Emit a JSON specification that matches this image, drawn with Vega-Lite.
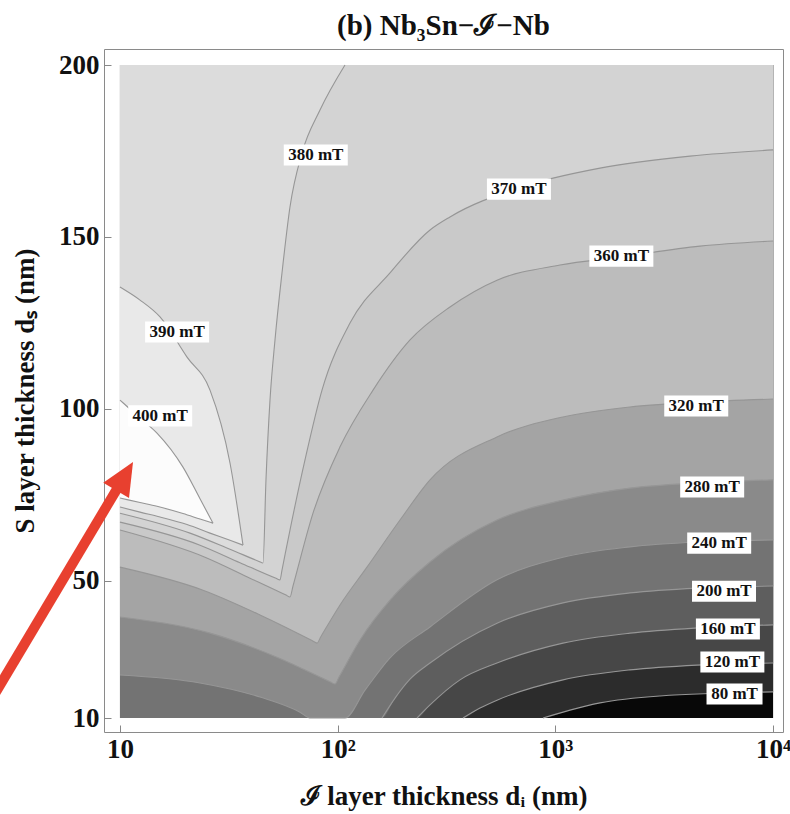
{
 "$schema": "https://vega.github.io/schema/vega-lite/v6.json",
 "width": 679, "height": 683,
 "autosize": {"type": "none"},
 "padding": {"left": 104, "top": 49, "right": 7, "bottom": 82},
 "background": "white",
 "config": {"view": {"stroke": "#8a8a8a", "strokeWidth": 1}, "font": "Liberation Serif"},
 "title": {"text": "(b) Nb₃Sn−ℐ−Nb", "font": "Liberation Serif", "fontSize": 29, "fontWeight": "bold", "anchor": "middle", "offset": 8, "color": "#111111"},
 "datasets": {
  "fills": [
   {"lev":0,"x":10,"lo":10,"hi":200},{"lev":0,"x":10000,"lo":10,"hi":200},
   {"lev":80,"x":10,"lo":10,"hi":200},{"lev":80,"x":877,"lo":10,"hi":200},{"lev":80,"x":1167,"lo":12.3,"hi":200},{"lev":80,"x":1603,"lo":14.4,"hi":200},{"lev":80,"x":3023,"lo":16.4,"hi":200},{"lev":80,"x":10000,"lo":17.6,"hi":200},
   {"lev":120,"x":10,"lo":10,"hi":200},{"lev":120,"x":376.3,"lo":10,"hi":200},{"lev":120,"x":450.6,"lo":12.9,"hi":200},{"lev":120,"x":539.3,"lo":15.2,"hi":200},{"lev":120,"x":1083.6,"lo":21.1,"hi":200},{"lev":120,"x":2201.6,"lo":24.0,"hi":200},{"lev":120,"x":4471,"lo":25.4,"hi":200},{"lev":120,"x":10000,"lo":26.0,"hi":200},
   {"lev":160,"x":10,"lo":10,"hi":200},{"lev":160,"x":231.4,"lo":10,"hi":200},{"lev":160,"x":265.5,"lo":13.8,"hi":200},{"lev":160,"x":364.6,"lo":21.1,"hi":200},{"lev":160,"x":539.3,"lo":26.0,"hi":200},{"lev":160,"x":1083.6,"lo":31.8,"hi":200},{"lev":160,"x":2201.6,"lo":34.7,"hi":200},{"lev":160,"x":4471,"lo":36.2,"hi":200},{"lev":160,"x":10000,"lo":37.1,"hi":200},
   {"lev":200,"x":10,"lo":10,"hi":200},{"lev":200,"x":159.8,"lo":10,"hi":200},{"lev":200,"x":183.4,"lo":15.8,"hi":200},{"lev":200,"x":214.9,"lo":21.3,"hi":200},{"lev":200,"x":265.5,"lo":26.0,"hi":200},{"lev":200,"x":539.3,"lo":37.6,"hi":200},{"lev":200,"x":1083.6,"lo":43.5,"hi":200},{"lev":200,"x":2201.6,"lo":46.4,"hi":200},{"lev":200,"x":4471,"lo":47.8,"hi":200},{"lev":200,"x":10000,"lo":48.4,"hi":200},
   {"lev":240,"x":10,"lo":22.5,"hi":200},{"lev":240,"x":23.31,"lo":20.2,"hi":200},{"lev":240,"x":43.97,"lo":16.1,"hi":200},{"lev":240,"x":67.12,"lo":11.7,"hi":200},{"lev":240,"x":74.61,"lo":10,"hi":200},{"lev":240,"x":108,"lo":10,"hi":200},{"lev":240,"x":133.5,"lo":18.1,"hi":200},{"lev":240,"x":173.9,"lo":27.5,"hi":200},{"lev":240,"x":265.5,"lo":36.5,"hi":200},{"lev":240,"x":539.3,"lo":50.2,"hi":200},{"lev":240,"x":1083.6,"lo":56.8,"hi":200},{"lev":240,"x":2201.6,"lo":59.8,"hi":200},{"lev":240,"x":4471,"lo":61.2,"hi":200},{"lev":240,"x":10000,"lo":61.8,"hi":200},
   {"lev":280,"x":10,"lo":39.4,"hi":200},{"lev":280,"x":25.91,"lo":34.7,"hi":200},{"lev":280,"x":52.62,"lo":27.7,"hi":200},{"lev":280,"x":92.2,"lo":20.56,"hi":200},{"lev":280,"x":97.19,"lo":19.9,"hi":200},{"lev":280,"x":101.4,"lo":21.93,"hi":200},{"lev":280,"x":126.6,"lo":32.7,"hi":200},{"lev":280,"x":173.9,"lo":44.3,"hi":200},{"lev":280,"x":265.5,"lo":55.4,"hi":200},{"lev":280,"x":539.3,"lo":67.6,"hi":200},{"lev":280,"x":1083.6,"lo":73.4,"hi":200},{"lev":280,"x":2201.6,"lo":76.9,"hi":200},{"lev":280,"x":4471,"lo":78.4,"hi":200},{"lev":280,"x":10000,"lo":79.3,"hi":200},
   {"lev":320,"x":10,"lo":53.9,"hi":200},{"lev":320,"x":24.06,"lo":47.2,"hi":200},{"lev":320,"x":43.97,"lo":40.0,"hi":200},{"lev":320,"x":76.2,"lo":32.55,"hi":200},{"lev":320,"x":80.35,"lo":31.8,"hi":200},{"lev":320,"x":83.8,"lo":33.74,"hi":200},{"lev":320,"x":102.5,"lo":42.9,"hi":200},{"lev":320,"x":136.3,"lo":53.9,"hi":200},{"lev":320,"x":193.3,"lo":67.6,"hi":200},{"lev":320,"x":265.5,"lo":79.3,"hi":200},{"lev":320,"x":539.3,"lo":91.8,"hi":200},{"lev":320,"x":1083.6,"lo":97.6,"hi":200},{"lev":320,"x":2201.6,"lo":100.5,"hi":200},{"lev":320,"x":4471,"lo":101.9,"hi":200},{"lev":320,"x":10000,"lo":102.8,"hi":200},
   {"lev":360,"x":10,"lo":64.7,"hi":200},{"lev":360,"x":24.57,"lo":56.8,"hi":200},{"lev":360,"x":39.55,"lo":50.7,"hi":200},{"lev":360,"x":57.88,"lo":45.76,"hi":200},{"lev":360,"x":60.37,"lo":45.2,"hi":200},{"lev":360,"x":62.34,"lo":48.41,"hi":200},{"lev":360,"x":77.02,"lo":69.6,"hi":200},{"lev":360,"x":102.5,"lo":88.9,"hi":200},{"lev":360,"x":145.3,"lo":105.4,"hi":200},{"lev":360,"x":214.9,"lo":120.0,"hi":200},{"lev":360,"x":328,"lo":129.6,"hi":200},{"lev":360,"x":539.3,"lo":137.4,"hi":200},{"lev":360,"x":1049.8,"lo":141.8,"hi":200},{"lev":360,"x":1980.7,"lo":144.1,"hi":200},{"lev":360,"x":4615,"lo":147.3,"hi":200},{"lev":360,"x":10000,"lo":148.8,"hi":200},
   {"lev":370,"x":10,"lo":67.0,"hi":200},{"lev":370,"x":23.31,"lo":60.3,"hi":200},{"lev":370,"x":35.58,"lo":55.2,"hi":200},{"lev":370,"x":52.07,"lo":50.66,"hi":200},{"lev":370,"x":54.33,"lo":50.2,"hi":200},{"lev":370,"x":55.48,"lo":53.06,"hi":200},{"lev":370,"x":60.37,"lo":64.7,"hi":200},{"lev":370,"x":70.76,"lo":85.1,"hi":200},{"lev":370,"x":84.71,"lo":105.4,"hi":200},{"lev":370,"x":113.9,"lo":124.9,"hi":200},{"lev":370,"x":173.9,"lo":139.5,"hi":200},{"lev":370,"x":265.5,"lo":152.0,"hi":200},{"lev":370,"x":328,"lo":155.8,"hi":200},{"lev":370,"x":673.2,"lo":164.2,"hi":200},{"lev":370,"x":1602.8,"lo":170.0,"hi":200},{"lev":370,"x":4152,"lo":173.5,"hi":200},{"lev":370,"x":10000,"lo":175.3,"hi":200},
   {"lev":380,"x":10,"lo":69.6,"hi":200},{"lev":380,"x":20.97,"lo":63.8,"hi":200},{"lev":380,"x":32.01,"lo":59.1,"hi":200},{"lev":380,"x":43.5,"lo":55.57,"hi":200},{"lev":380,"x":45.38,"lo":55.1,"hi":200},{"lev":380,"x":46.84,"lo":79.3,"hi":200},{"lev":380,"x":48.87,"lo":102.5,"hi":200},{"lev":380,"x":51.52,"lo":120.0,"hi":200},{"lev":380,"x":55.48,"lo":139.5,"hi":200},{"lev":380,"x":60.37,"lo":158.7,"hi":200},{"lev":380,"x":68.55,"lo":174.4,"hi":200},{"lev":380,"x":82.93,"lo":186.9,"hi":200},{"lev":380,"x":108,"lo":200,"hi":200},
   {"lev":390,"x":10,"lo":71.4,"hi":135.4},{"lev":390,"x":12.36,"lo":69.9,"hi":131.6},{"lev":390,"x":15.27,"lo":68.5,"hi":126.7},{"lev":390,"x":20.32,"lo":66.3,"hi":115.0},{"lev":390,"x":25.91,"lo":63.8,"hi":105.4},{"lev":390,"x":32.01,"lo":61.7,"hi":84.2},{"lev":390,"x":36.73,"lo":60.3,"hi":60.3},
   {"lev":400,"x":10,"lo":74.0,"hi":102.5},{"lev":400,"x":12.36,"lo":72.7,"hi":97.3},{"lev":400,"x":14.79,"lo":71.6,"hi":92.9},{"lev":400,"x":19.47,"lo":69.5,"hi":83.0},{"lev":400,"x":23.31,"lo":67.9,"hi":73.8},{"lev":400,"x":26.74,"lo":66.7,"hi":66.7}
  ],
  "labels": [
   {"t":"380 mT","x":79.3,"y":173.8},{"t":"370 mT","x":680,"y":163.9},{"t":"360 mT","x":2009,"y":144.4},
   {"t":"390 mT","x":18.3,"y":122.3},{"t":"400 mT","x":15.3,"y":97.9},{"t":"320 mT","x":4436,"y":100.8},
   {"t":"280 mT","x":5250,"y":77.2},{"t":"240 mT","x":5654,"y":60.9},{"t":"200 mT","x":5950,"y":46.9},
   {"t":"160 mT","x":6200,"y":35.9},{"t":"120 mT","x":6500,"y":26.3},{"t":"80 mT","x":6650,"y":17.0}
  ],
  "arrow": [{"x":2.666,"y":17.13},{"x":10.02,"y":78.2}],
  "head": [{"x":10.30,"y":79.5}]
 },
 "layer": [
  {"data": {"name": "fills"},
   "mark": {"type": "area", "interpolate": "monotone"},
   "encoding": {
    "x": {"field": "x", "type": "quantitative",
     "scale": {"type": "log", "domain": [8.444, 11104], "nice": false},
     "axis": {"values": [10, 100, 1000, 10000], "labelExpr": "datum.value == 10 ? '10' : datum.value == 100 ? '10²' : datum.value == 1000 ? '10³' : '10⁴'",
      "title": "ℐ  layer thickness dᵢ  (nm)", "grid": false, "domain": false, "tickSize": -7, "tickColor": "#888888",
      "labelFont": "Liberation Serif", "labelFontSize": 27, "labelFontWeight": "bold", "labelColor": "#111111", "labelPadding": 11,
      "titleFont": "Liberation Serif", "titleFontSize": 27, "titleFontWeight": "bold", "titleColor": "#111111", "titlePadding": 21, "labelFlush": false}},
    "y": {"field": "lo", "type": "quantitative", "stack": null,
     "scale": {"domain": [5.93, 204.66], "nice": false, "zero": false},
     "axis": {"values": [10, 50, 100, 150, 200], "title": "S  layer thickness dₛ  (nm)", "grid": false, "domain": false, "tickSize": -7, "tickColor": "#888888",
      "labelFont": "Liberation Serif", "labelFontSize": 27, "labelFontWeight": "bold", "labelColor": "#111111", "labelPadding": 12,
      "titleFont": "Liberation Serif", "titleFontSize": 27, "titleFontWeight": "bold", "titleColor": "#111111", "titlePadding": 19, "labelFlush": false}},
    "y2": {"field": "hi"},
    "color": {"field": "lev", "type": "ordinal", "legend": null,
     "scale": {"domain": [0, 80, 120, 160, 200, 240, 280, 320, 360, 370, 380, 390, 400],
      "range": ["#080808", "#2c2c2c", "#474747", "#5e5e5e", "#737373", "#8a8a8a", "#a4a4a4", "#bcbcbc", "#c9c9c9", "#d3d3d3", "#dcdcdc", "#e9e9e9", "#fcfcfc"]}}
   }},
  {"data": {"name": "fills"},
   "transform": [{"filter": "datum.lev > 0 && (datum.lo > 10 || datum.x > 20)"}],
   "mark": {"type": "line", "stroke": "#969696", "strokeWidth": 1.1, "interpolate": "monotone"},
   "encoding": {"x": {"field": "x", "type": "quantitative"}, "y": {"field": "lo", "type": "quantitative"}, "detail": {"field": "lev"}}},
  {"data": {"name": "fills"},
   "transform": [{"filter": "datum.hi < 200"}],
   "mark": {"type": "line", "stroke": "#969696", "strokeWidth": 1.1, "interpolate": "monotone"},
   "encoding": {"x": {"field": "x", "type": "quantitative"}, "y": {"field": "hi", "type": "quantitative"}, "detail": {"field": "lev"}}},
  {"data": {"name": "labels"},
   "transform": [{"filter": "datum.t != '80 mT'"}],
   "mark": {"type": "point", "shape": "M-1,-0.33L1,-0.33L1,0.33L-1,0.33Z", "size": 4096, "filled": true, "color": "white", "opacity": 1, "strokeWidth": 0},
   "encoding": {"x": {"field": "x", "type": "quantitative"}, "y": {"field": "y", "type": "quantitative"}}},
  {"data": {"name": "labels"},
   "transform": [{"filter": "datum.t == '80 mT'"}],
   "mark": {"type": "point", "shape": "M-1,-0.375L1,-0.375L1,0.375L-1,0.375Z", "size": 3136, "filled": true, "color": "white", "opacity": 1, "strokeWidth": 0},
   "encoding": {"x": {"field": "x", "type": "quantitative"}, "y": {"field": "y", "type": "quantitative"}}},
  {"data": {"name": "labels"},
   "mark": {"type": "text", "font": "Liberation Serif", "fontSize": 17, "fontWeight": "bold", "color": "#111111", "baseline": "middle", "align": "center"},
   "encoding": {"x": {"field": "x", "type": "quantitative"}, "y": {"field": "y", "type": "quantitative"}, "text": {"field": "t"}}},
  {"data": {"name": "arrow"},
   "mark": {"type": "line", "color": "#e8402f", "strokeWidth": 10, "strokeCap": "butt"},
   "encoding": {"x": {"field": "x", "type": "quantitative"}, "y": {"field": "y", "type": "quantitative"}}},
  {"data": {"name": "head"},
   "mark": {"type": "point", "shape": "M0,-1L0.75,0.65L-0.75,0.65Z", "size": 1600, "filled": true, "color": "#e8402f", "opacity": 1, "strokeWidth": 0, "angle": 30.8},
   "encoding": {"x": {"field": "x", "type": "quantitative"}, "y": {"field": "y", "type": "quantitative"}}}
 ]
}
